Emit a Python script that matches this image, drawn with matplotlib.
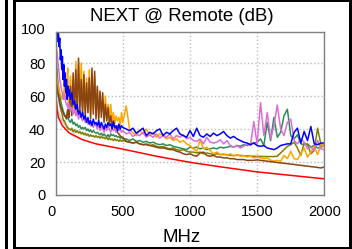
import matplotlib
matplotlib.use('Agg')
import matplotlib.pyplot as plt
from matplotlib.patches import Rectangle
from matplotlib import transforms

plt.rcParams['font.family'] = ['Liberation Sans', 'DejaVu Sans']

# frequency points (MHz) shared by all measured pairs
FREQ = [1, 5, 10, 15, 20, 25, 30, 35, 40, 45, 50,
        55, 60, 65, 70, 75, 80, 85, 90, 95, 100,
        110, 120, 130, 140, 150, 160, 170, 180, 190, 200,
        210, 220, 230, 240, 250, 260, 270, 280, 290, 300,
        310, 320, 330, 340, 350, 360, 370, 380, 390, 400,
        410, 420, 430, 440, 450, 460, 470, 480, 490, 500,
        525, 550, 575, 600, 625, 650, 675, 700, 725, 750,
        775, 800, 825, 850, 875, 900, 925, 950, 975, 1000,
        1025, 1050, 1075, 1100, 1125, 1150, 1175, 1200, 1225, 1250,
        1275, 1300, 1325, 1350, 1375, 1400, 1425, 1450, 1475, 1500,
        1525, 1550, 1575, 1600, 1625, 1650, 1675, 1700, 1725, 1750,
        1775, 1800, 1825, 1850, 1875, 1900, 1925, 1950, 1975, 2000]

BLUE = [88, 96, 100, 93, 100, 90, 95, 82, 88, 76, 84,
        70, 79, 66, 74, 62, 70, 58, 66, 60, 64,
        58, 62, 55, 57, 52, 55, 49, 51, 47, 50,
        46, 48, 44, 47, 43, 45, 42, 46, 43, 44,
        42, 45, 41, 44, 42, 40, 43, 41, 44, 42,
        43, 40, 44, 41, 42, 39, 43, 40, 42, 41,
        40, 39, 40.5, 37.5, 39, 40.5, 36, 38, 37, 39,
        40, 36, 38, 37, 39, 40.5, 37, 36, 35, 39,
        35.5, 40.5, 36, 35, 37, 35.5, 37.5, 36, 37, 38.5,
        36, 34.5, 35.5, 34, 33, 32, 31.5, 30.5, 31.5, 30,
        29.5, 30, 28.5, 28, 27.5, 28.5, 30, 30.5, 31, 31,
        38, 40.5, 31.5, 38.5, 33, 41.5, 31, 30.5, 31.5, 31.5]

ORANGE = [75, 72, 70, 68, 66, 64, 62, 61, 60, 59, 58,
          62, 60, 70, 74, 58, 60, 72, 77, 55, 56,
          72, 55, 69, 54, 81, 52, 79, 56, 80, 53,
          75, 51, 71, 50, 76, 49, 68, 52, 72, 48,
          65, 47, 62, 50, 58, 46, 60, 45, 55, 47,
          55, 44, 50, 43, 48, 45, 47, 42, 50, 44,
          54, 40, 38, 36, 39, 37, 40, 36, 38, 35,
          37, 36, 34, 35, 33, 34, 32, 33, 31, 30,
          28, 26.5, 33.5, 28, 29, 27, 25, 26, 24.5, 25,
          24, 25, 23.5, 24.5, 23.5, 24, 23, 23.5, 22.5, 23,
          22.5, 22, 22.5, 21, 20.5, 21, 20.5, 24, 22, 26.5,
          22, 21.5, 25, 28.5, 23, 26, 29.5, 24.5, 30.5, 29]

BROWN = [72, 68, 65, 62, 60, 58, 56, 54, 53, 52, 51,
         50, 49, 48, 48, 47, 47, 50, 52, 47, 47,
         66, 48, 74, 50, 76, 49, 83, 51, 70, 48,
         73, 47, 68, 50, 71, 46, 77, 49, 75, 46,
         66, 45, 63, 47, 62, 44, 55, 45, 53, 43,
         48, 42, 45, 40, 41, 38, 37, 36, 35, 35,
         32.5, 32, 31.5, 32, 31, 30.5, 30.5, 30, 29.5, 29,
         28.5, 28.5, 28, 27.5, 27.5, 26.5, 26, 25, 24.5, 25,
         24, 23.5, 25.5, 26, 24, 23.5, 24, 23, 23, 22.5,
         22.5, 22, 22, 21.5, 21.5, 21.5, 21, 21, 21, 21.3,
         21, 20.7, 20.5, 20.2, 20, 19.7, 19.5, 19.2, 19, 18.7,
         18.5, 18.2, 18, 17.7, 17.5, 17.2, 17, 16.7, 16.4, 17]

ORCHID = [92, 89, 86, 82, 78, 74, 70, 68, 65, 63, 62,
          59, 58, 61, 60, 56, 55, 54, 53, 56, 54,
          51, 53, 49, 52, 48, 50, 46, 49, 47, 45,
          47, 44, 46, 43, 45, 42, 44, 41, 43, 42,
          40, 43, 39, 42, 40, 38, 41, 39, 42, 40,
          38, 41, 39, 40, 38, 42, 39, 40, 38, 39,
          37, 38, 35.5, 37, 36, 38, 35, 36.5, 35, 37,
          34.5, 36, 35, 37, 34, 36, 35, 36.5, 34, 35,
          33, 32.5, 34, 31, 35, 32, 31.5, 32, 33.5, 31,
          33, 30, 29, 30, 28.5, 29.5, 31, 30, 44.5, 31,
          56, 36, 50, 34, 42, 54.5, 40, 36, 44, 46,
          33, 31, 34, 32, 28, 29, 27, 33, 28, 27.5]

GREEN = [88, 80, 74, 70, 66, 63, 60, 58, 56, 54, 53,
         51, 50, 49, 48, 47, 46, 47, 47, 46, 45,
         44, 46, 43, 44, 42, 43, 41, 42, 40, 41,
         40, 41, 39, 40, 38.5, 39.5, 38, 39, 38, 37.5,
         38, 37, 36.5, 37.5, 36, 37, 36, 35.5, 36.5, 35,
         37, 36, 36.5, 35.5, 36, 35, 35.5, 34.5, 35, 34,
         34, 33, 34, 32.5, 33, 32, 32.5, 31.5, 32, 31,
         30.5, 31, 30, 30.5, 29.5, 29, 28.5, 28, 27.5, 29,
         28.5, 29, 28, 28.5, 27.5, 28, 28.5, 28, 29, 28.5,
         29, 29.5, 29, 30, 29.5, 30.5, 30, 31, 31.5, 32,
         34, 30, 44, 33, 47, 35, 38, 48, 52, 36,
         34, 36.5, 31, 30.5, 31, 29, 30, 28.5, 29, 30]

OLIVE = [94, 80, 70, 65, 61, 58, 55, 53, 51, 50, 48,
         46, 45, 45, 44, 43, 42, 41, 41, 40, 40,
         39.5, 40.5, 38.5, 39.5, 38, 39, 37.5, 38.5, 37, 38,
         36.5, 37.5, 36, 37, 35.5, 36.5, 35.5, 36, 35, 36,
         35, 35.5, 34.5, 35.5, 34.5, 35, 34, 35, 33.5, 34.5,
         33.5, 34, 33, 34, 33, 33.5, 32.5, 33.5, 32.5, 33,
         32.5, 32, 31.5, 32, 31, 30.5, 31, 30, 30.5, 29.5,
         29, 29.5, 28.5, 28, 28.5, 27.5, 27, 27.5, 26.5, 26,
         26, 25.5, 26, 25, 25.5, 25, 24.5, 25, 24.5, 24.5,
         24.5, 24, 24, 24, 24, 23.8, 23.7, 23.6, 23.5, 23.4,
         23.4, 23.3, 23.3, 23.3, 23.3, 23.5, 25.5, 27.5, 29.5, 30.5,
         32, 28.5, 24, 31.5, 30.5, 25, 27, 40.5, 30.5, 30]

# limit curve and the short grey reference curve at low frequency
LIMIT_F = [1, 10, 20, 50, 100, 200, 300, 500, 750, 1000, 1250, 1500, 1750, 2000]
LIMIT_DB = [62, 52, 47, 42, 37.6, 33.5, 31, 27.8, 23.5, 19.8, 16.8, 14, 11.9, 9.8]
GREY_F = [1, 10, 20, 40, 75, 100, 140]
GREY_DB = [60, 54, 50, 46, 42, 40, 37.5]

W, H = 352, 249
fig = plt.figure(figsize=(W / 100, H / 100), dpi=100)


def px_rect(x0, y0, x1, y1):
    # rectangle given in image pixels (y down)
    fig.add_artist(Rectangle((x0 / W, 1 - y1 / H), (x1 - x0) / W, (y1 - y0) / H,
                             transform=fig.transFigure, facecolor='black',
                             edgecolor='none'))


px_rect(5, 0, 7.5, 249)
px_rect(13, 0, 16, 249)
px_rect(13, 0, 352, 2)
px_rect(348.5, 0, 352, 249)
px_rect(13, 246.5, 352, 249)

ax = fig.add_axes([55.7 / W, 1 - 195 / H, 268.6 / W, (195 - 32) / H])

lw = 1.1
ax.plot(GREY_F, GREY_DB, color='#c8c8c8', lw=lw)
ax.plot(LIMIT_F, LIMIT_DB, color='#ff0000', lw=lw)
ax.plot(FREQ, GREEN, color='#2e8b57', lw=lw)
ax.plot(FREQ, OLIVE, color='#808000', lw=lw)
ax.plot(FREQ, ORANGE, color='#ffa500', lw=lw)
ax.plot(FREQ, BROWN, color='#8b4513', lw=lw)
ax.plot(FREQ, ORCHID, color='#da70d6', lw=lw)
ax.plot(FREQ, BLUE, color='#0000ff', lw=lw)

ax.set_xlim(0, 2000)
ax.set_ylim(0, 98.8)
ax.set_xticks([0, 500, 1000, 1500, 2000])
ax.set_yticks([0, 20, 40, 60, 80])
ax.grid(True, color='#bbbbbb', linestyle=':', lw=1)
ax.set_axisbelow(True)
for s in ax.spines.values():
    s.set_color('#808080')
    s.set_linewidth(1)
ax.tick_params(length=0, labelsize=10.5, pad=7.5, colors='black')
ax.get_xticklabels()[0].set_ha('right')

# top label sits just above the clipped axis top
off = transforms.offset_copy(ax.get_yaxis_transform(), fig=fig, x=-10.7, y=0, units='dots')
ax.text(0, 100, '100', transform=off, ha='right', va='center', fontsize=10.5, clip_on=False)

fig.text(182 / W, 1 - 20.7 / H, 'NEXT @ Remote (dB)', ha='center', va='baseline', fontsize=13.4)
fig.text(182 / W, 1 - 241.5 / H, 'MHz', ha='center', va='baseline', fontsize=13.4)

fig.savefig('out.png', dpi=100)
